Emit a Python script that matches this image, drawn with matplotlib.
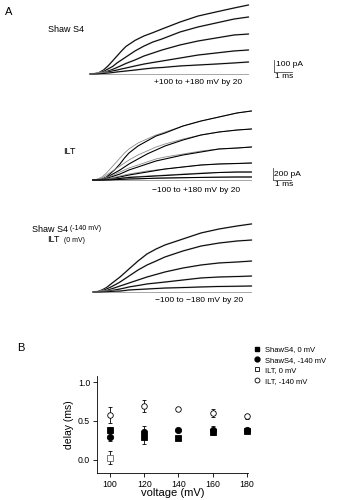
import numpy as np
import matplotlib
matplotlib.use("Agg")
import matplotlib.pyplot as plt
from matplotlib.lines import Line2D

plt.rcParams['font.family'] = ['Liberation Sans', 'DejaVu Sans']

W, H = 356, 500

# --- panel A: current traces (time in ms, current in pA) ---
t_ms = [0, 0.25, 0.5, 0.75, 1, 1.25, 1.5, 1.75, 2, 2.5, 3, 3.5, 4, 5, 6, 7, 8, 8.8]

shaw_traces = [
    [0, 3, 12, 33, 67, 108, 150, 192, 230, 280, 317, 345, 375, 433, 483, 517, 550, 575],
    [0, 2, 8, 21, 42, 62, 92, 117, 142, 192, 233, 267, 292, 350, 392, 425, 458, 475],
    [0, 1, 5, 12, 25, 38, 54, 71, 88, 117, 150, 175, 200, 242, 275, 300, 325, 333],
    [0, 0, 2, 8, 17, 25, 33, 42, 50, 67, 83, 96, 108, 133, 158, 175, 192, 200],
    [0, 0, 2, 4, 8, 12, 17, 21, 25, 33, 42, 50, 54, 67, 75, 83, 92, 100],
]

ilt_data = [
    [0, 17, 50, 117, 200, 283, 367, 450, 517, 617, 683, 750, 800, 900, 983, 1050, 1117, 1150],
    [0, 12, 33, 83, 133, 183, 233, 283, 333, 417, 483, 550, 600, 683, 750, 800, 833, 850],
    [0, 7, 17, 42, 67, 100, 133, 167, 200, 250, 300, 350, 383, 433, 483, 517, 533, 550],
    [0, 3, 8, 20, 33, 50, 67, 83, 100, 125, 150, 167, 183, 217, 250, 267, 275, 283],
    [0, 0, 3, 8, 17, 25, 33, 42, 50, 58, 67, 75, 83, 100, 117, 125, 133, 133],
    [0, 0, 0, 2, 3, 7, 10, 13, 17, 20, 25, 30, 33, 38, 43, 47, 50, 50],
]
ilt_fit = [
    [0, 5, 17, 50, 117, 183, 267, 367, 450, 567, 650, 733, 783, 900, 983, 1050, 1117, 1150],
    [0, 3, 12, 33, 83, 125, 167, 217, 267, 350, 433, 500, 567, 667, 750, 800, 833, 850],
    [0, 2, 8, 25, 50, 75, 100, 133, 167, 217, 267, 317, 350, 417, 467, 517, 533, 550],
    [0, 0, 5, 10, 17, 33, 50, 67, 83, 108, 133, 158, 183, 217, 250, 267, 275, 283],
    [0, 0, 2, 5, 8, 17, 25, 33, 42, 50, 58, 67, 75, 92, 108, 125, 133, 133],
    [0, 0, 0, 2, 3, 7, 10, 13, 17, 20, 25, 30, 33, 38, 43, 47, 50, 50],
]

mix_traces = [
    [0, 4, 17, 37, 67, 96, 125, 158, 192, 258, 317, 358, 392, 442, 492, 525, 550, 567],
    [0, 2, 8, 25, 42, 62, 83, 108, 133, 183, 225, 258, 292, 342, 383, 408, 425, 433],
    [0, 1, 4, 12, 25, 37, 50, 62, 75, 100, 125, 146, 167, 200, 225, 242, 250, 258],
    [0, 0, 2, 7, 12, 18, 25, 33, 42, 54, 67, 75, 83, 100, 117, 125, 129, 133],
    [0, 0, 1, 2, 4, 7, 8, 12, 17, 21, 25, 29, 33, 37, 42, 46, 48, 50],
]

# --- panel B: delay vs voltage ---
voltage = [100, 120, 140, 160, 180]
shaw_0 = [0.39, 0.30, 0.28, 0.36, 0.37]
shaw_0_err = [0.03, 0.09, 0.02, 0.04, 0.02]
shaw_140 = [0.29, 0.36, 0.38, 0.39, 0.38]
shaw_140_err = [0.05, 0.07, 0.02, 0.04, 0.02]
ilt_0_v = [100]
ilt_0 = [0.03]
ilt_0_err = [0.08]
ilt_140 = [0.58, 0.69, 0.65, 0.60, 0.56]
ilt_140_err = [0.10, 0.08, 0.02, 0.05, 0.03]


fig = plt.figure(figsize=(W / 100, H / 100), dpi=100)


def fx(px):
    return px / W


def fy(py):
    return 1 - py / H


def trace_axes(x0, y0, px_per_ms, pa_per_px):
    ax = fig.add_axes([0, 0, 1, 1])
    ax.set_xlim(-x0 / px_per_ms, (W - x0) / px_per_ms)
    ax.set_ylim(-(H - y0) * pa_per_px, y0 * pa_per_px)
    ax.axis('off')
    return ax


def scale_bar(ax, t0, i0, pa):
    ax.plot([t0, t0], [i0, i0 + pa], color='0.3', lw=0.6)
    ax.plot([t0, t0 + 1], [i0, i0], color='0.3', lw=0.6)


# trace 1: Shaw S4
ax1 = trace_axes(90, 74, 18, 100 / 12)
ax1.plot([0, 8.8], [0, 0], color='0.6', lw=0.6)
for tr in shaw_traces:
    ax1.plot(t_ms, tr, color='0.7', lw=1.2)
    ax1.plot(t_ms, tr, color='k', lw=0.7)
scale_bar(ax1, 10.2, 17, 100)

# trace 2: ILT
ax2 = trace_axes(93, 180, 18, 200 / 12)
ax2.plot([0, 8.8], [0, 0], color='0.6', lw=0.6)
for d, f in zip(ilt_data, ilt_fit):
    ax2.plot(t_ms, d, color='0.55', lw=0.6)
    ax2.plot(t_ms, f, color='k', lw=0.8)
scale_bar(ax2, 10.0, 0, 200)

# trace 3: Shaw S4 (-140 mV) + ILT (0 mV)
ax3 = trace_axes(93, 292, 18, 100 / 12)
ax3.plot([0, 8.8], [0, 0], color='0.6', lw=0.6)
for tr in mix_traces:
    ax3.plot(t_ms, tr, color='0.7', lw=1.2)
    ax3.plot(t_ms, tr, color='k', lw=0.7)

# texts panel A
fig.text(fx(5), fy(12), 'A', fontsize=8, va='center')
fig.text(fx(48), fy(30), 'Shaw S4', fontsize=6.5, va='center')
fig.text(fx(154), fy(83), '+100 to +180 mV by 20', fontsize=6, va='center')
fig.text(fx(276), fy(64), '100 pA', fontsize=6, va='center')
fig.text(fx(275), fy(77), '1 ms', fontsize=6, va='center')

fig.text(fx(63), fy(151), 'ILT', fontsize=6.5, va='center')
fig.text(fx(152), fy(190), '\u2212100 to +180 mV by 20', fontsize=6, va='center')
fig.text(fx(274), fy(174), '200 pA', fontsize=6, va='center')
fig.text(fx(275), fy(185), '1 ms', fontsize=6, va='center')

fig.text(fx(32), fy(229), 'Shaw S4', fontsize=6.5, va='center')
fig.text(fx(70), fy(229), '(-140 mV)', fontsize=5, va='center')
fig.text(fx(47), fy(240), 'ILT', fontsize=6.5, va='center')
fig.text(fx(64), fy(240), '(0 mV)', fontsize=5, va='center')
fig.text(fx(155), fy(301), '\u2212100 to \u2212180 mV by 20', fontsize=6, va='center')

# --- panel B ---
fig.text(fx(17), fy(348), 'B', fontsize=8, va='center')
axb = fig.add_axes([fx(97), fy(473), (248 - 97) / W, (473 - 376) / H])
ekw = dict(capsize=1.5, elinewidth=0.6, capthick=0.6, ecolor='k', ls='none')
styles = [
    (voltage, ilt_140, ilt_140_err, 'o', 4, 'white', 'k'),
    (ilt_0_v, ilt_0, ilt_0_err, 's', 4.5, 'white', '0.4'),
    (voltage, shaw_140, shaw_140_err, 'o', 4.5, 'k', 'k'),
    (voltage, shaw_0, shaw_0_err, 's', 4.5, 'k', 'k'),
]
for xv, yv, ev, mk, ms, fc, ec in styles:
    cont = axb.errorbar(xv, yv, yerr=ev, marker=mk, ms=ms, mfc=fc, mec=ec,
                        mew=0.6, **ekw)
    for art in cont.lines[0:1] + tuple(cont.lines[1]) + tuple(cont.lines[2]):
        art.set_clip_on(False)

axb.set_xlim(92.4, 180.6)
axb.set_ylim(-0.167, 1.077)
axb.set_xticks(voltage)
axb.set_yticks([0.0, 0.5, 1.0])
axb.set_yticklabels(['0.0', '0.5', '1.0'])
axb.spines['top'].set_visible(False)
axb.spines['right'].set_visible(False)
for s in axb.spines.values():
    s.set_linewidth(0.6)
axb.tick_params(direction='out', length=3, width=0.6, labelsize=6.3, pad=2)
axb.set_xlabel('voltage (mV)', fontsize=8, labelpad=-1)
axb.set_ylabel('delay (ms)', fontsize=7.5, labelpad=3)

legend_labels = ['ShawS4, 0 mV', 'ShawS4, -140 mV', 'ILT, 0 mV', 'ILT, -140 mV']
handles = [
    Line2D([], [], ls='none', marker='s', ms=3.5, mfc='k', mec='k'),
    Line2D([], [], ls='none', marker='o', ms=3.5, mfc='k', mec='k'),
    Line2D([], [], ls='none', marker='s', ms=3.5, mfc='white', mec='k', mew=0.6),
    Line2D([], [], ls='none', marker='o', ms=3.5, mfc='white', mec='k', mew=0.6),
]
fig.legend(handles, legend_labels, loc='upper left',
           bbox_to_anchor=(fx(253), fy(346)), frameon=False, fontsize=5.5,
           handlelength=1.0, handletextpad=0.6, labelspacing=0.4,
           borderaxespad=0, borderpad=0)

fig.savefig('out.png', dpi=100)
